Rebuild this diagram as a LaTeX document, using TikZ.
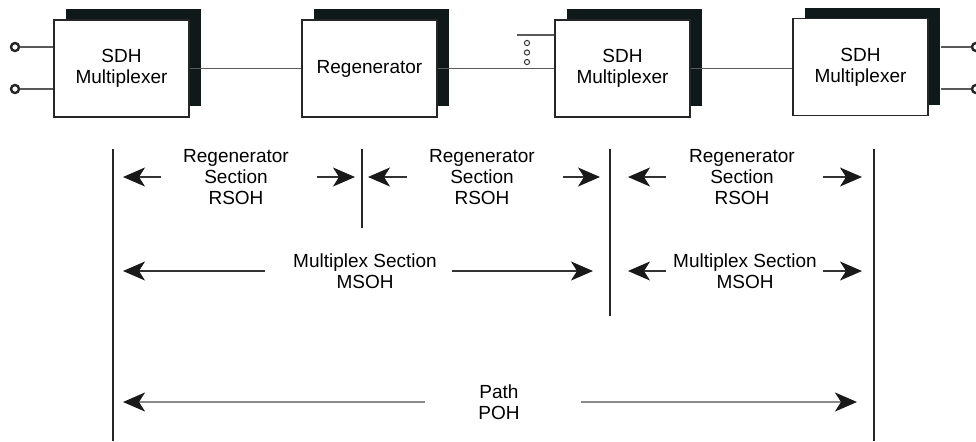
\documentclass[tikz,border=0pt]{standalone}
\usepackage{xcolor}
\usepackage{fontspec}
\setmainfont{Liberation Sans}
\usetikzlibrary{shadows,arrows.meta,calc}

\definecolor{shadowblk}{HTML}{0F1919}
\definecolor{wiregrey}{HTML}{5A5A5A}
\definecolor{pathgrey}{HTML}{8A8A8A}

\tikzset{
  sdhbox/.style={draw=black!85, line width=0.6pt, fill=white,
    minimum width=67.5pt, minimum height=48.5pt, align=center,
    general shadow={fill=shadowblk, shadow xshift=6pt, shadow yshift=5.5pt}},
  port/.style={circle, draw=black!85, line width=1.2pt, fill=white,
    inner sep=0pt, minimum size=4pt},
  spare/.style={circle, draw=black!80, line width=0.5pt, fill=white,
    inner sep=0pt, minimum size=2.6pt},
  wire/.style={draw=wiregrey, line width=0.55pt},
  boundary/.style={draw=black!85, line width=0.7pt},
  sectlabel/.style={align=center, inner sep=0pt},
  sect/.style={draw=black!80, line width=0.6pt,
    -{Stealth[length=11pt,width=9.5pt,inset=3pt,color=black!90]}},
  pathsect/.style={draw=pathgrey, line width=1.1pt,
    -{Stealth[length=11pt,width=9.5pt,inset=3pt,color=black!90]}}
}

\begin{document}
\begin{tikzpicture}[x=0.5pt,y=-0.5pt,font=\fontsize{9.5}{10.5}\selectfont]
\useasboundingbox (0,0) rectangle (976,441);

% network elements
\node[sdhbox] (mux1) at (121.5,68.5) {SDH\\Multiplexer};
\node[sdhbox] (regen) at (369.5,68.5) {Regenerator};
\node[sdhbox] (mux2) at (622.5,68.5) {SDH\\Multiplexer};
\node[sdhbox] (mux3) at (860.5,67) {SDH\\Multiplexer};

% tributaries
\node[port] (in1) at (15,47) {};
\node[port] (in2) at (15,89) {};
\node[port] (out1) at (976,47) {};
\node[port] (out2) at (976,89) {};
\draw[wire] (in1) -- (in1 -| mux1.west);
\draw[wire] (in2) -- (in2 -| mux1.west);
\draw[wire] ($(mux3.east |- out1)+(12,0)$) -- (out1);
\draw[wire] ($(mux3.east |- out2)+(12,0)$) -- (out2);

% line side
\draw[wire] (mux1) -- (regen);
\draw[wire] (regen.east) -- (regen.east -| mux2.west);
\draw[wire] (mux2.east) -- (mux2.east -| mux3.west);
\coordinate (extra) at (517,35);
\draw[wire] (extra) -- (extra -| mux2.west);
\foreach \y [count=\i] in {43,52.5,62}
  \node[spare] (dot\i) at (527,\y) {};

% section boundaries
\coordinate (b1) at (113,149);
\coordinate (b2) at (362,149);
\coordinate (b3) at (610,149);
\coordinate (b4) at (874,149);
\draw[boundary] (b1) -- ++(0,292);
\draw[boundary] (b2) -- ++(0,79);
\draw[boundary] (b3) -- ++(0,167);
\draw[boundary] (b4) -- ++(0,292);

% overhead labels
\node[sectlabel] (rs1) at (236,177) {Regenerator\\Section\\RSOH};
\node[sectlabel] (rs2) at (482,177) {Regenerator\\Section\\RSOH};
\node[sectlabel] (rs3) at (742,177) {Regenerator\\Section\\RSOH};
\node[sectlabel] (ms1) at (365,271) {Multiplex Section\\MSOH};
\node[sectlabel] (ms2) at (745,271) {Multiplex Section\\MSOH};
\node[sectlabel] (poh) at (499,402) {Path\\POH};

% spans
\draw[sect] ($(rs1.west)+(-22,0)$) -- ($(b1 |- rs1)+(10,0)$);
\draw[sect] ($(rs1.east)+(28,0)$) -- ($(b2 |- rs1)+(-7,0)$);
\draw[sect] ($(rs2.west)+(-22,0)$) -- ($(b2 |- rs2)+(6,0)$);
\draw[sect] ($(rs2.east)+(28,0)$) -- ($(b3 |- rs2)+(-10,0)$);
\draw[sect] ($(rs3.west)+(-23,0)$) -- ($(b3 |- rs3)+(18,0)$);
\draw[sect] ($(rs3.east)+(28,0)$) -- ($(b4 |- rs3)+(-12,0)$);
\draw[sect] ($(ms1.west)+(-28,0)$) -- ($(b1 |- ms1)+(10,0)$);
\draw[sect] ($(ms1.east)+(15,0)$) -- ($(b3 |- ms1)+(-17,0)$);
\draw[sect] ($(ms2.west)+(-7,0)$) -- ($(b3 |- ms2)+(18,0)$);
\draw[sect] ($(ms2.east)+(6,0)$) -- ($(b4 |- ms2)+(-12,0)$);
\draw[pathsect] ($(poh.west)+(-53,0)$) -- ($(b1 |- poh)+(10,0)$);
\draw[pathsect] ($(poh.east)+(61,0)$) -- ($(b4 |- poh)+(-17,0)$);
\end{tikzpicture}
\end{document}
